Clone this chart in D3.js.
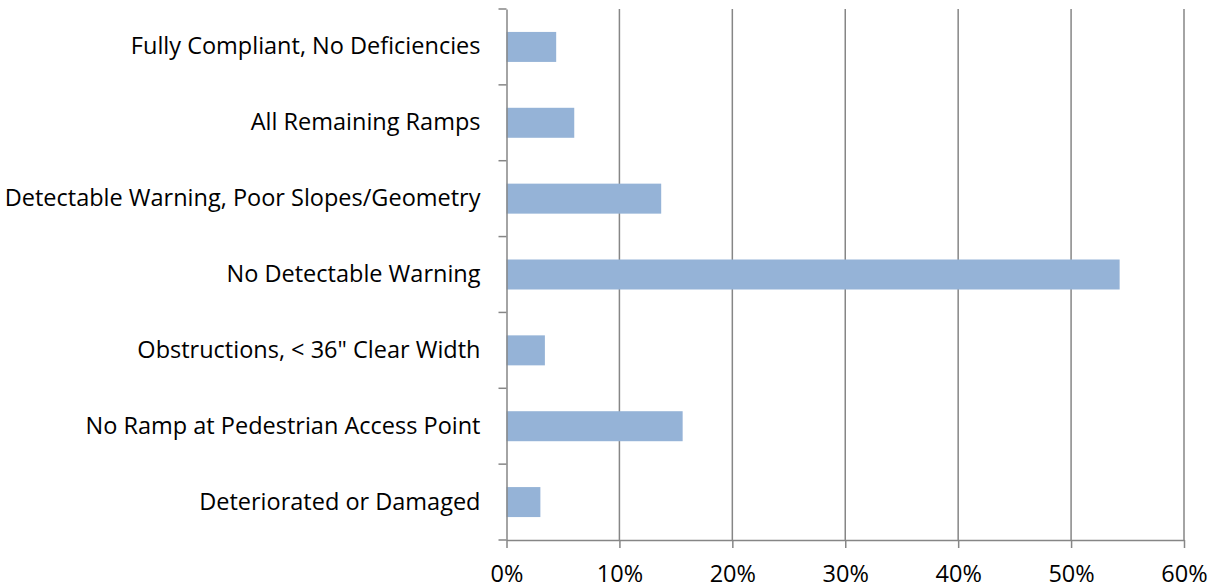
<!DOCTYPE html>
<html>
<head>
<meta charset="utf-8">
<script src="https://cdn.jsdelivr.net/npm/d3@7"></script>
<style>
body { margin: 0; background: #fff; }
text { font-family: "Open Sans", "Liberation Sans", Arial, sans-serif; fill: #000; }
</style>
</head>
<body>
<div id="chart"></div>
<script>
var width = 1214;
var height = 588;

// data
var categories = [
    "Fully Compliant, No Deficiencies",
    "All Remaining Ramps",
    "Detectable Warning, Poor Slopes/Geometry",
    "No Detectable Warning",
    "Obstructions, < 36\" Clear Width",
    "No Ramp at Pedestrian Access Point",
    "Deteriorated or Damaged"
];
var values = [4.4, 6.0, 13.7, 54.3, 3.4, 15.6, 3.0];
var xTicks = [0, 10, 20, 30, 40, 50, 60];

var margin = {left: 506.5, right: 30, top: 9, bottom: 48};
var FONT = "Open Sans, Liberation Sans, Arial, sans-serif";

var svg = d3.select("#chart").append("svg")
    .attr("width", width)
    .attr("height", height);

var x = d3.scaleLinear().domain([0, 60]).range([margin.left, 1184]);
var yBand = d3.scaleBand().domain(categories).range([margin.top, height - margin.bottom]);

// gridlines
svg.selectAll("line.grid")
    .data(xTicks.slice(1))
    .enter().append("line")
    .attr("class", "grid")
    .attr("x1", function(d){ return x(d); })
    .attr("x2", function(d){ return x(d); })
    .attr("y1", margin.top)
    .attr("y2", height - margin.bottom)
    .attr("stroke", "#868686")
    .attr("stroke-width", 1.5);

// bars
svg.selectAll("rect.bar")
    .data(values)
    .enter().append("rect")
    .attr("class", "bar")
    .attr("x", x(0))
    .attr("y", function(d, i){ return yBand(categories[i]) + yBand.bandwidth()/2 - 15; })
    .attr("width", function(d){ return x(d) - x(0); })
    .attr("height", 30)
    .attr("fill", "#95b3d7");

// x axis
var xAxis = svg.append("g")
    .attr("transform", "translate(0," + (height - margin.bottom) + ")")
    .call(d3.axisBottom(x).tickValues(xTicks).tickFormat(function(d){ return d + "%"; }).tickSize(8).tickSizeOuter(0));
xAxis.select(".domain").attr("stroke", "#868686").attr("stroke-width", 1.5);
xAxis.selectAll(".tick line").attr("stroke", "#868686").attr("stroke-width", 1.5);
xAxis.selectAll(".tick text").attr("font-size", 23.5).attr("font-family", FONT).attr("dy", 0).attr("y", 42);

// y axis
var yAxis = svg.append("g")
    .attr("transform", "translate(" + margin.left + ",0)")
    .call(d3.axisLeft(yBand).tickSize(0).tickPadding(26));
yAxis.select(".domain").attr("stroke", "#868686").attr("stroke-width", 1.5);
yAxis.selectAll(".tick text").attr("font-size", 23.5).attr("font-family", FONT);

// category boundary ticks
var bounds = categories.map(function(c){ return yBand(c); }).concat([height - margin.bottom]);
svg.selectAll("line.ytick")
    .data(bounds)
    .enter().append("line")
    .attr("class", "ytick")
    .attr("x1", margin.left - 8)
    .attr("x2", margin.left)
    .attr("y1", function(d){ return d; })
    .attr("y2", function(d){ return d; })
    .attr("stroke", "#868686")
    .attr("stroke-width", 1.5);
</script>
</body>
</html>
